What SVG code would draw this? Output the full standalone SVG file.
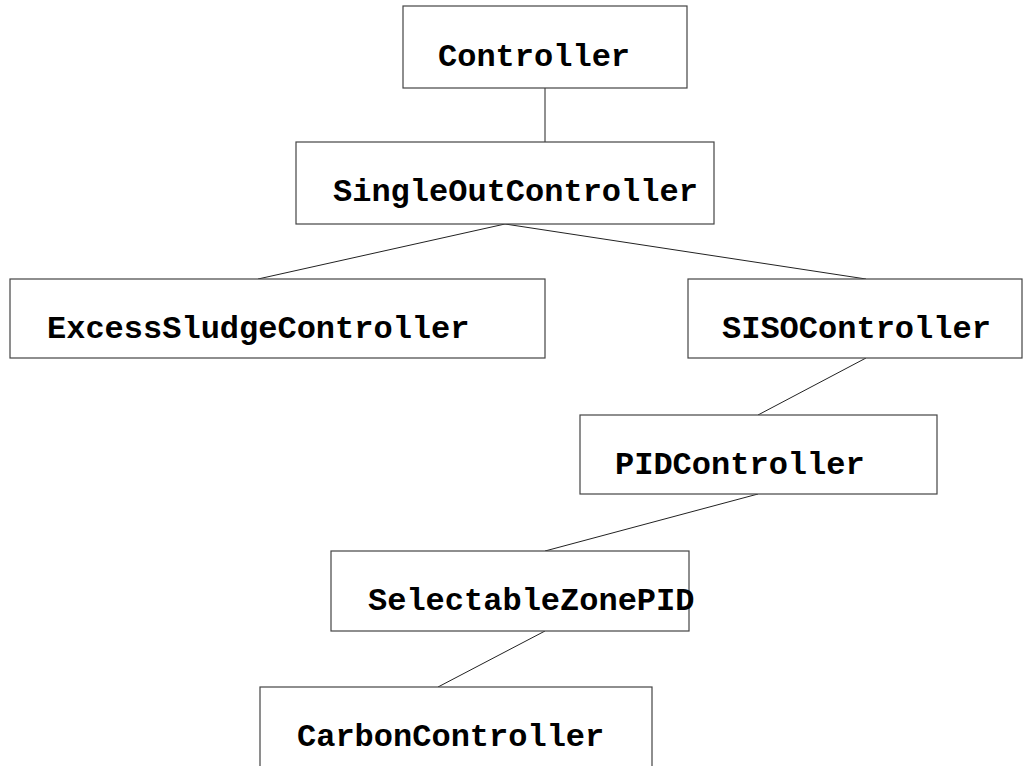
<svg xmlns="http://www.w3.org/2000/svg" width="1033" height="766" viewBox="0 0 1033 766">
<style>
.box{fill:#fff;stroke:#444;stroke-width:1.2}
.lbl{font-family:"Liberation Mono","Courier New",monospace;font-weight:bold;font-size:32px;fill:#000}
.edge{stroke:#222;stroke-width:1;fill:none}
</style>
<rect width="1033" height="766" fill="#fff"/>
<g id="connectors">
<line class="edge" x1="545" y1="88" x2="545" y2="142"/>
<line class="edge" x1="505" y1="224" x2="258" y2="279"/>
<line class="edge" x1="505" y1="224" x2="866" y2="279"/>
<line class="edge" x1="866" y1="358" x2="758" y2="415"/>
<line class="edge" x1="758" y1="494" x2="545" y2="551"/>
<line class="edge" x1="545" y1="631" x2="438" y2="687"/>
</g>
<g id="Controller"><rect class="box" x="403" y="6" width="284" height="82"/><text class="lbl" x="438" y="66">Controller</text></g>
<g id="SingleOutController"><rect class="box" x="296" y="142" width="418" height="82"/><text class="lbl" x="333" y="201">SingleOutController</text></g>
<g id="ExcessSludgeController"><rect class="box" x="10" y="279" width="535" height="79"/><text class="lbl" x="47" y="338">ExcessSludgeController</text></g>
<g id="SISOController"><rect class="box" x="688" y="279" width="334" height="79"/><text class="lbl" x="722" y="338">SISOController</text></g>
<g id="PIDController"><rect class="box" x="580" y="415" width="357" height="79"/><text class="lbl" x="615" y="474">PIDController</text></g>
<g id="SelectableZonePID"><rect class="box" x="331" y="551" width="358" height="80"/><text class="lbl" x="368" y="610">SelectableZonePID</text></g>
<g id="CarbonController"><rect class="box" x="260" y="687" width="392" height="100"/><text class="lbl" x="297" y="746">CarbonController</text></g>
</svg>
